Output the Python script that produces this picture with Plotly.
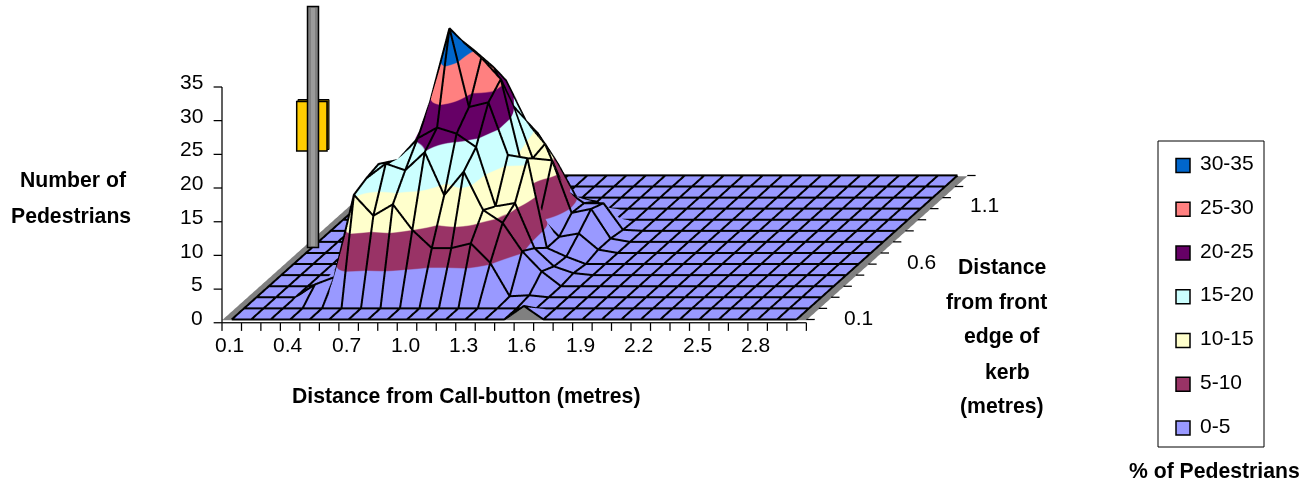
import plotly.graph_objects as go

# ---------- data ----------
call_button_m = [round(0.1 * k, 1) for k in range(1, 31)]
kerb_edge_m = [round(0.1 * k, 1) for k in range(1, 15)]
z_ticks = [0, 5, 10, 15, 20, 25, 30, 35]
x_tick_labels = ["0.1", "0.4", "0.7", "1.0", "1.3", "1.6", "1.9", "2.2", "2.5", "2.8"]
y_tick_labels = ["0.1", "0.6", "1.1"]
band_names = ["0-5", "5-10", "10-15", "15-20", "20-25", "25-30", "30-35"]
band_colors = ["#9999FF", "#993366", "#FFFFCC", "#CCFFFF", "#660066", "#FF8080", "#0066CC"]

row_01 = [0]*15 + [2] + [0]*14
row_02 = [0]*30
row_03 = [0, 0, 0, 1.9, 3, 15.2, 12.1, 13.8, 10, 7.3, 7.3, 8, 5.1, 0.15, 0.3] + [0]*15
row_04 = [0, 0, 0, 0.5, 5, 16, 18.2, 17.2, 19.9, 13.5, 17, 11.3, 9.4, 5.2, 2.2] + [0]*15
row_05 = [0, 0, 0, 0, 6, 16.5, 17.1, 20.3, 21.9, 21, 19, 10.2, 10.7, 4, 1.3, 0.3] + [0]*14
row_06 = [0, 0, 0, 0, 2, 8, 14, 24, 35, 23.3, 24, 16.2, 15.7, 2.4, 1.1, 0] + [0]*14
row_07 = [0, 0, 0, 0, 0, 3, 10, 26, 31.5, 29, 25.8, 14, 5.4, 2.4, 2.9, 0.5] + [0]*14
row_08 = [0, 0, 0, 0, 0, 0, 2, 15, 28.4, 25.9, 20.2, 12.4, 12.1, 4.3, 4.9, 0.5] + [0]*14
row_09 = [0, 0, 0, 0, 0, 0, 0, 3, 12, 22.3, 16.4, 12.9, 6.1, 4.1, 4.1, 0.15] + [0]*14
row_10 = [0, 0, 0, 0, 0, 0, 0, 0, 3, 10, 12.8, 8.4, 3.2, 2.7, 0, 0] + [0]*14
row_11 = [0, 0, 0, 0, 0, 0, 0, 0, 0, 3, 7.2, 1, 0, 0, 0, 0] + [0]*14
row_12 = [0]*30
row_13 = [0]*30
row_14 = [0]*30
pedestrians = [row_01, row_02, row_03, row_04, row_05, row_06, row_07,
               row_08, row_09, row_10, row_11, row_12, row_13, row_14]

# ---------- oblique view set-up (Excel 3-D look) ----------
W, H = 1310, 482
SHEAR = 0.6356            # x cells per depth row
PX_X, PX_Y, PX_Z = 19.57, 11.13, 6.77
S = 2 ** 0.5
X_RANGE = [-3, 46.46]
Y_RANGE = [-3, 14]
Z_RANGE = [-31.8, 37]
EYE_D = 8.0
ZOOM = 4.13 / 1000.0

nx, ny = len(call_button_m), len(kerb_edge_m)
def sx(i, r):
    return i + SHEAR * r

xs = [[sx(i, r) for i in range(nx)] for r in range(ny)]
ys = [[r for i in range(nx)] for r in range(ny)]

n = len(band_colors)
colorscale = []
for k, c in enumerate(band_colors):
    colorscale += [[k / n, c], [(k + 1) / n, c]]

fig = go.Figure()

# floor
fx = [[sx(-0.5, 0), sx(nx - 0.5, 0)], [sx(-0.5, ny - 1), sx(nx - 0.5, ny - 1)]]
fig.add_trace(go.Surface(x=fx, y=[[0, 0], [ny - 1, ny - 1]], z=[[-0.12, -0.12], [-0.12, -0.12]],
                         surfacecolor=[[0, 0], [0, 0]], colorscale=[[0, "#808080"], [1, "#808080"]],
                         showscale=False, hoverinfo="skip",
                         lighting=dict(ambient=1, diffuse=0, specular=0, roughness=1, fresnel=0)))
# the surface
fig.add_trace(go.Surface(x=xs, y=ys, z=pedestrians, colorscale=colorscale, cmin=0, cmax=35,
                         showscale=False,
                         lighting=dict(ambient=1, diffuse=0, specular=0, roughness=1, fresnel=0)))
# underside seen at the raised front node
peak_i = max(range(nx), key=lambda i: pedestrians[0][i])
fig.add_trace(go.Mesh3d(x=[peak_i - 1, peak_i + 1, peak_i], y=[-0.02] * 3, z=[0, 0, pedestrians[0][peak_i]],
                        i=[0], j=[1], k=[2], color="#808080", hoverinfo="skip",
                        lighting=dict(ambient=1, diffuse=0, specular=0, roughness=1, fresnel=0)))

# mesh lines, lifted slightly towards the viewer
LIFT_Y, LIFT_Z = -0.12, 0.2
lx, ly, lz = [], [], []
for r in range(ny):
    for i in range(nx):
        lx.append(xs[r][i]); ly.append(r + LIFT_Y); lz.append(pedestrians[r][i] + LIFT_Z)
    lx.append(None); ly.append(None); lz.append(None)
for i in range(nx):
    for r in range(ny):
        lx.append(xs[r][i]); ly.append(r + LIFT_Y); lz.append(pedestrians[r][i] + LIFT_Z)
    lx.append(None); ly.append(None); lz.append(None)
fig.add_trace(go.Scatter3d(x=lx, y=ly, z=lz, mode="lines", line=dict(color="black", width=4), hoverinfo="skip"))

# axes
ax_x, ax_y, ax_z = [], [], []
def seg(a, b):
    ax_x.extend([a[0], b[0], None]); ax_y.extend([a[1], b[1], None]); ax_z.extend([a[2], b[2], None])
TICK = 1.2
seg((-0.5, -0.3, 0), (nx - 0.5, -0.3, 0))
seg((-0.5, -0.3, 0), (-0.5, -0.3, z_ticks[-1]))
for v in z_ticks:
    seg((-0.5, -0.3, v), (-0.93, -0.3, v))
for k in range(nx + 1):
    seg((k - 0.5, -0.3, 0), (k - 0.5, -0.3, -TICK))
for r in range(ny):
    seg((sx(nx - 0.5, r), r, 0), (sx(nx - 0.5, r) + 0.43, r, 0))
fig.add_trace(go.Scatter3d(x=ax_x, y=ax_y, z=ax_z, mode="lines", line=dict(color="black", width=2.5), hoverinfo="skip"))

FONT = "Liberation Sans, Arial, sans-serif"
TS, BS = 21, 21.2
ann3d = []
for v in z_ticks:
    ann3d.append(dict(x=-0.5, y=0, z=v, text=str(v), showarrow=False, xanchor="right", yanchor="middle",
                      xshift=-17, yshift=2, font=dict(size=TS, color="black", family=FONT)))
for k, t in enumerate(x_tick_labels):
    ann3d.append(dict(x=3 * k, y=0, z=0, text=t, showarrow=False, xanchor="center", yanchor="middle",
                      xshift=-2, yshift=-25, font=dict(size=TS, color="black", family=FONT)))
for k, t in enumerate(y_tick_labels):
    ann3d.append(dict(x=sx(nx - 0.5, 5 * k), y=5 * k, z=0, text=t, showarrow=False, xanchor="center", yanchor="middle",
                      xshift=52 + k, yshift=2 + k, font=dict(size=TS, color="black", family=FONT)))

def px(x): return x / W
def py(y): return 1 - y / H

shapes = []
def rect(x0, y0, x1, y1, fill, line="black", lw=0):
    shapes.append(dict(type="rect", xref="paper", yref="paper", x0=px(x0), x1=px(x1), y0=py(y0), y1=py(y1),
                       fillcolor=fill, line=dict(color=line, width=lw), layer="above"))
# call button and post
rect(298, 99.5, 329, 149.5, "#665200", "black", 1)
rect(296.7, 101.5, 327, 151, "#FFCC00", "black", 1.5)
rect(307.5, 6.5, 318.5, 247.5, "#808080", "black", 1.5)
rect(311, 8, 315, 246, "#9A9A9A")

# legend
rect(1158, 141, 1264, 447, "rgba(0,0,0,0)", "black", 1)
annotations = []
for k, (name, col) in enumerate(zip(reversed(band_names), reversed(band_colors))):
    yc = 165.5 + 43.75 * k
    rect(1176, yc - 7, 1190, yc + 7, col, "black", 1.5)
    annotations.append(dict(x=px(1198), y=py(yc - 3), xref="paper", yref="paper", text=name, showarrow=False,
                            xanchor="left", yanchor="middle", font=dict(size=TS, color="black", family=FONT)))

def title(txt, x, y):
    annotations.append(dict(x=px(x), y=py(y), xref="paper", yref="paper", text="<b>%s</b>" % txt, showarrow=False,
                            xanchor="center", yanchor="middle", font=dict(size=BS, color="black", family=FONT)))
title("Number of", 73, 179)
title("Pedestrians", 71, 216)
title("Distance from Call-button (metres)", 466, 396)
title("Distance", 1002, 266)
title("from front", 996, 301)
title("edge of", 1002, 336)
title("kerb", 1007, 371)
title("(metres)", 1002, 406)
title("% of Pedestrians", 1214, 470)

def span(rng, unit):
    return (rng[1] - rng[0]) * unit * ZOOM

hidden = dict(visible=False)
fig.update_layout(
    width=W, height=H, margin=dict(l=0, r=0, t=0, b=0), paper_bgcolor="white", showlegend=False,
    shapes=shapes, annotations=annotations,
    scene=dict(
        domain=dict(x=[0, 1], y=[0, 1]),
        xaxis=dict(hidden, range=X_RANGE), yaxis=dict(hidden, range=Y_RANGE), zaxis=dict(hidden, range=Z_RANGE),
        aspectmode="manual",
        aspectratio=dict(x=span(X_RANGE, PX_X), y=span(Y_RANGE, PX_Y * S), z=span(Z_RANGE, PX_Z * S)),
        camera=dict(projection=dict(type="orthographic"), up=dict(x=0, y=0, z=1), center=dict(x=0, y=0, z=0),
                    eye=dict(x=0, y=-EYE_D / S, z=EYE_D / S)),
        annotations=ann3d,
    ),
)
fig.write_html("out.html", config=dict(displayModeBar=False),
               post_script="document.body.style.margin='0';")
